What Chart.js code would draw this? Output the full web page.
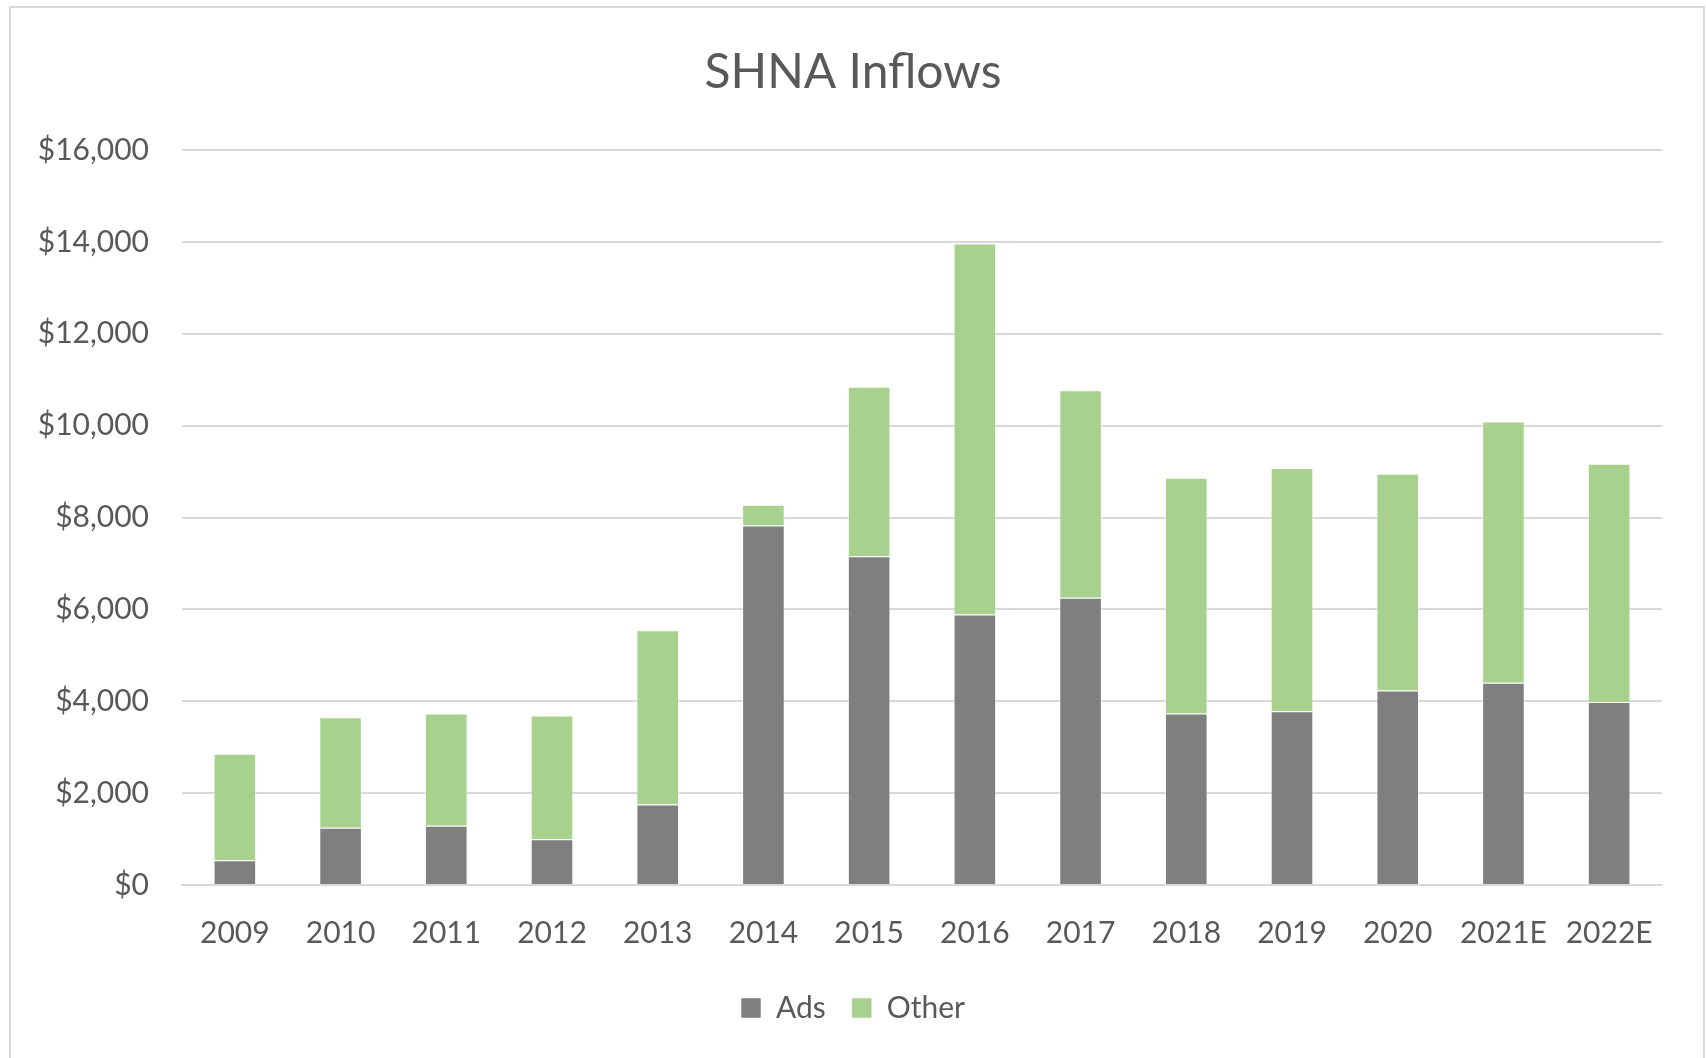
<!DOCTYPE html>
<html>
<head>
<meta charset="utf-8">
<script src="https://cdn.jsdelivr.net/npm/chart.js@4.4.1/dist/chart.umd.min.js"></script>
<style>
    html, body { margin: 0; padding: 0; background: #fff; }
    body { width: 1706px; height: 1058px; overflow: hidden; position: relative; }
    #frame { position: absolute; left: 9px; top: 6px; width: 1696px; height: 1120px; border: 2px solid #d9d9d9; box-sizing: border-box; }
    #wrap { position: absolute; left: 0; top: 0; width: 1706px; height: 1058px; }
</style>
</head>
<body>
<div id="frame"></div>
<div id="wrap"><canvas id="chart"></canvas></div>
<script>
// values ($)
const years = ['2009', '2010', '2011', '2012', '2013', '2014', '2015', '2016', '2017', '2018', '2019', '2020', '2021E', '2022E'];
const ads = [540, 1245, 1290, 995, 1755, 7825, 7155, 5890, 6255, 3735, 3780, 4235, 4405, 3985];
const other = [2315, 2405, 2445, 2695, 3790, 455, 3690, 8075, 4515, 5130, 5300, 4715, 5685, 5185];
const yMin = 0;
const yMax = 16000;
const yStep = 2000;

const textColor = '#595959';
const gridColor = '#d9d9d9';
const fontFamily = 'Lato, "Open Sans", sans-serif';

const ctx = document.getElementById('chart').getContext('2d');

new Chart(ctx, {
    type: 'bar',
    data: {
        labels: years,
        datasets: [
            {
                label: 'Ads',
                data: ads,
                backgroundColor: '#7f7f7f',
                borderColor: 'rgba(255,255,255,0.5)',
                borderWidth: 1
            },
            {
                label: 'Other',
                data: other,
                backgroundColor: '#a9d18e',
                borderColor: 'rgba(255,255,255,0.5)',
                borderWidth: 1
            }
        ]
    },
    options: {
        responsive: true,
        maintainAspectRatio: false,
        animation: false,
        layout: { padding: { top: 0, right: 0, bottom: 25, left: 0 } },
        datasets: {
            bar: { categoryPercentage: 1, barPercentage: 0.403 }
        },
        scales: {
            x: {
                stacked: true,
                grid: { display: false, drawTicks: false },
                border: { display: true, color: gridColor, width: 2 },
                ticks: {
                    color: textColor,
                    font: { family: fontFamily, size: 30 },
                    padding: 30,
                    maxRotation: 0,
                    autoSkip: false
                },
                afterFit(scale) { scale.height = 82; }
            },
            y: {
                stacked: true,
                min: yMin,
                max: yMax,
                grid: { color: gridColor, lineWidth: 2, drawTicks: false },
                border: { display: false },
                ticks: {
                    stepSize: yStep,
                    color: textColor,
                    font: { family: fontFamily, size: 30 },
                    padding: 33,
                    callback: v => '$' + v.toLocaleString('en-US')
                },
                afterFit(scale) { scale.width = 182; }
            },
            // empty right-hand gutter so the title and legend centre on the whole canvas
            gutter: {
                axis: 'y',
                type: 'linear',
                position: 'right',
                grid: { display: false, drawTicks: false },
                border: { display: false },
                ticks: { display: false },
                afterFit(scale) { scale.width = 44; }
            }
        },
        plugins: {
            title: {
                display: true,
                text: 'SHNA Inflows',
                color: textColor,
                font: { family: fontFamily, size: 48, weight: 'normal' },
                padding: { top: 44, bottom: 48.4 }
            },
            legend: {
                position: 'bottom',
                labels: {
                    color: textColor,
                    font: { family: fontFamily, size: 30 },
                    boxWidth: 20,
                    boxHeight: 20,
                    padding: 26
                }
            },
            tooltip: { enabled: false }
        }
    }
});
</script>
</body>
</html>
